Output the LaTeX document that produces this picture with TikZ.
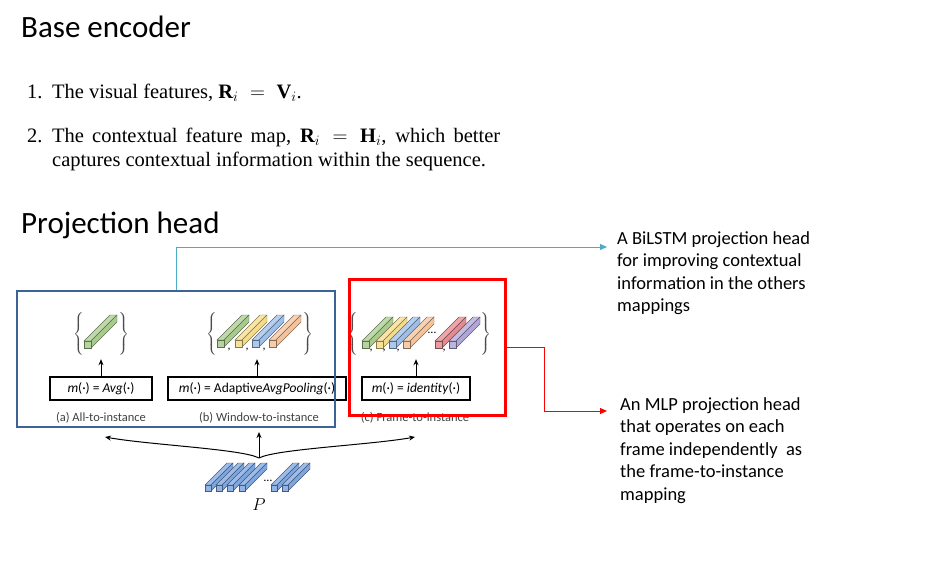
\documentclass[tikz,border=0pt]{standalone}
\usepackage{amsmath}
\usepackage{fontspec}
\setmainfont{Liberation Serif}
\newfontfamily\calibri{Carlito}
\usetikzlibrary{arrows.meta, positioning, calc}
\definecolor{headline}{HTML}{4BACC6}
\definecolor{bluebox} {HTML}{3D6396}
\definecolor{redbox}  {HTML}{FF0000}
\definecolor{captext} {HTML}{404040}
\definecolor{bargreen}{HTML}{A9CC8E}
\definecolor{baryel}  {HTML}{F5DC8A}
\definecolor{barblue} {HTML}{9DBFEA}
\definecolor{barorng} {HTML}{F4C39B}
\definecolor{barred}  {HTML}{E58A8F}
\definecolor{barpurp} {HTML}{B0A6D8}
\definecolor{pbar}    {HTML}{7EA6E0}

% one slanted feature bar: x, y of the front square, its size, depth, colour
\newcommand{\featbar}[5]{%
  \filldraw[draw=#5!55!black, fill=#5!75!white, line width=0.4pt] (#1,#2-#3) -- ++(#4,-#4) -- ++(#3,0) -- (#1+#3,#2-#3) -- cycle;
  \filldraw[draw=#5!55!black, fill=#5, line width=0.4pt] (#1+#3,#2) -- (#1+#3,#2-#3) -- ++(#4,-#4) -- ++(0,#3) -- cycle;
  \filldraw[draw=#5!55!black, fill=#5!85!white, line width=0.4pt] (#1,#2) rectangle ++(#3,-#3);
}

\begin{document}
\begin{tikzpicture}[x=1pt, y=-1pt, font=\calibri,
    txt/.style={anchor=base west, inner sep=0pt},
    headtitle/.style={txt, font=\calibri\fontsize{31}{36}\selectfont},
    listitem/.style={txt, font=\fontsize{20.5}{24}\selectfont},
    sidenote/.style={anchor=north west, inner sep=0pt, align=left, font=\calibri\fontsize{18.5}{22.5}\selectfont},
    mapbox/.style={draw, line width=1.1pt, minimum height=23pt, inner sep=0pt, font=\calibri\fontsize{13.5}{15}\selectfont},
    subcap/.style={text=captext, inner sep=0pt, font=\calibri\fontsize{12.5}{14}\selectfont},
    bracenode/.style={inner sep=0pt, text=black!70, font=\fontsize{12}{14}\selectfont},
    featgroup/.style={minimum height=36pt, minimum width=20pt, inner sep=0pt},
    commanode/.style={anchor=base, inner sep=0pt, font=\calibri\fontsize{12}{14}\selectfont},
    uparrow/.style={-{Stealth[length=6pt, width=5pt]}, line width=1pt, shorten >=7pt},
    fanarrow/.style={-{Stealth[length=6pt, width=5pt]}, line width=1pt}]
  \useasboundingbox (0,0) rectangle (926,562);

  % headings and list
  \node[headtitle] (basetitle) at (21,37) {Base encoder};
  \node[headtitle] (projtitle) at (21,233) {Projection head};
  \node[listitem] (num1) at (27,98) {1.};
  \node[listitem] (item1) at (52,98) {The visual features, $\mathbf{R}_i \;=\; \mathbf{V}_i$.};
  \node[listitem] (num2) at (27,142) {2.};
  \node[listitem] (item2a) at (52,142) {\hbox to 448pt{The contextual feature map, $\mathbf{R}_i = \mathbf{H}_i$, which better}};
  \node[listitem] (item2b) at (52,166) {captures contextual information within the sequence.};

  % mapping boxes and captions
  \node[mapbox, minimum width=102pt] (mapa) at (101,388.5) {\textit{m}(·) = \textit{Avg}(·)};
  \node[mapbox, minimum width=178pt] (mapb) at (257,388.5) {\textit{m}(·) = Adaptive\textit{AvgPooling}(·)};
  \node[mapbox, minimum width=108pt] (mapc) at (416,388.5) {\textit{m}(·) = \textit{identity}(·)};
  \node[subcap] (capa) at (101,418) {(a) All-to-instance};
  \node[subcap] (capb) at (259,418) {(b) Window-to-instance};
  \node[subcap] (capc) at (415,418) {(c) Frame-to-instance};

  % feature sets
  \node[featgroup] (feata) at (101,334) {};
  \node[featgroup] (featb) at (257,334) {};
  \node[featgroup] (featc) at (416,334) {};
  \node[bracenode] (bracea1) at (79,334) {$\left\{\vrule height 17pt depth 17pt width 0pt\right.$};
  \node[bracenode] (bracea2) at (123,334) {$\left.\vrule height 17pt depth 17pt width 0pt\right\}$};
  \node[bracenode] (braceb1) at (212,334) {$\left\{\vrule height 17pt depth 17pt width 0pt\right.$};
  \node[bracenode] (braceb2) at (307,334) {$\left.\vrule height 17pt depth 17pt width 0pt\right\}$};
  \node[bracenode] (bracec1) at (353,334) {$\left\{\vrule height 17pt depth 17pt width 0pt\right.$};
  \node[bracenode] (bracec2) at (485,334) {$\left.\vrule height 17pt depth 17pt width 0pt\right\}$};

  \featbar{84}{348}{7}{26}{bargreen}

  \featbar{217}{347}{7}{25}{bargreen}
  \featbar{235}{347}{7}{25}{baryel}
  \featbar{252}{347}{7}{25}{barblue}
  \featbar{269}{347}{7}{25}{barorng}
  \node[commanode] (cb1) at (229,349) {,};
  \node[commanode] (cb2) at (247,349) {,};
  \node[commanode] (cb3) at (264,349) {,};

  \featbar{362}{348}{7}{24}{bargreen}
  \featbar{376}{348}{7}{24}{baryel}
  \featbar{389}{348}{7}{24}{barblue}
  \featbar{403}{348}{7}{24}{barorng}
  \featbar{435}{348}{7}{24}{barred}
  \featbar{449}{348}{7}{24}{barpurp}
  \node[commanode] (cc1) at (371,350) {,};
  \node[commanode] (cc2) at (384,350) {,};
  \node[commanode] (cc3) at (398,350) {,};
  \node[commanode] (cc4) at (444,350) {,};
  \node[commanode] (dotsc) at (432,333) {\dots};

  \draw[uparrow] (mapa) -- (feata);
  \draw[uparrow] (mapb) -- (featb);
  \draw[uparrow] (mapc) -- (featc);

  % input sequence P
  \featbar{205}{491}{6}{22}{pbar}
  \featbar{216}{491}{6}{22}{pbar}
  \featbar{227}{491}{6}{22}{pbar}
  \featbar{239}{491}{6}{22}{pbar}
  \featbar{271}{491}{6}{22}{pbar}
  \featbar{282}{491}{6}{22}{pbar}
  \node[commanode] (dotsp) at (268,481) {\dots};
  \node[inner sep=0pt, font=\fontsize{17}{20}\selectfont] (plabel) at (259,505) {$P$};

  \coordinate (pjoin) at (259,458);
  \coordinate (ain) at (105,437);
  \coordinate (bin) at (259,432);
  \coordinate (cin) at (415,437);
  \draw[fanarrow] (pjoin) .. controls (242,449) and (150,445) .. (ain);
  \draw[fanarrow] (pjoin) -- (bin);
  \draw[fanarrow] (pjoin) .. controls (276,449) and (370,445) .. (cin);

  % the two projection heads
  \node[draw=bluebox, line width=2.2pt, minimum width=318pt, minimum height=136pt, inner sep=0pt] (allbox) at (176,359) {};
  \node[draw=redbox, line width=3pt, minimum width=156pt, minimum height=136pt, inner sep=0pt] (framebox) at (427,347) {};

  \node[sidenote] (bilstmnote) at (617,231) {A BiLSTM projection head\\for improving contextual\\information in the others\\mappings};
  \node[sidenote] (mlpnote) at (620,397) {An MLP projection head\\that operates on each\\frame independently\ \ as\\the frame-to-instance\\mapping};
  \coordinate (bilstmin) at (607,247);
  \coordinate (mlpin) at (607,411);
  \draw[headline, line width=1pt, -{Triangle[length=7pt, width=6pt]}] (allbox.north) |- (bilstmin);
  \draw[redbox, line width=1pt, -{Triangle[length=7pt, width=6pt]}] (framebox.east) -- ++(38,0) |- (mlpin);
\end{tikzpicture}
\end{document}
